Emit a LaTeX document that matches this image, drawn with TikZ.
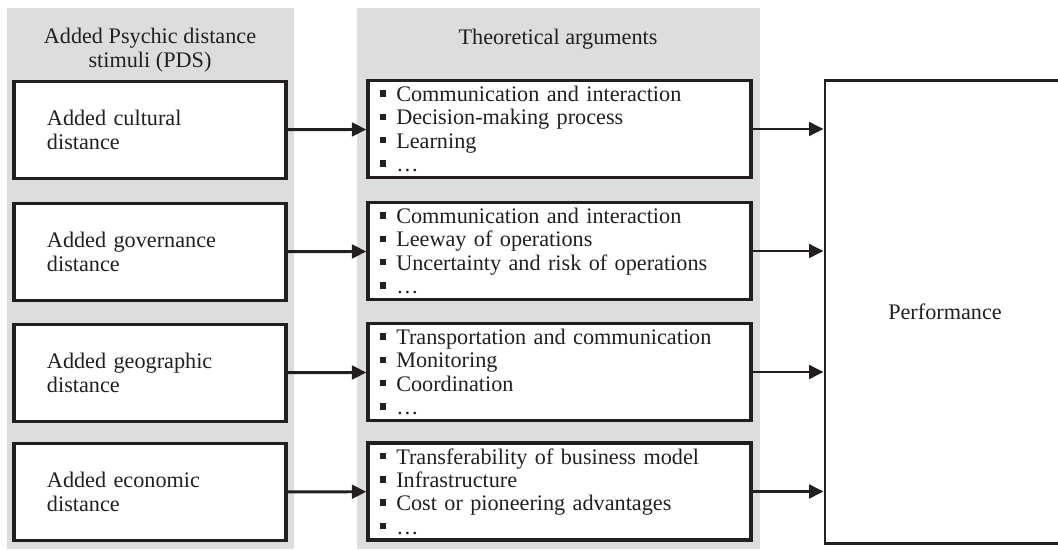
\documentclass[tikz,border=0pt]{standalone}
\usepackage{fontspec}
\setmainfont{Liberation Serif}
\usepackage{xcolor}
\usetikzlibrary{arrows.meta}
\definecolor{panelgray}{RGB}{220, 221, 223}
\definecolor{linegray}{RGB}{35, 31, 32}
\newcommand{\argbullet}{\rule[0.22em]{4.6pt}{4.6pt}\hspace{7pt}}

\begin{document}
\begin{tikzpicture}[
  x=0.025cm, y=-0.025cm,
  font=\fontsize{15.8}{16.6}\selectfont,
  text=linegray,
  panel/.style={
    fill=panelgray,
  },
  header/.style={
    align=center,
    inner sep=0pt,
  },
  pdsbox/.style={
    draw=linegray,
    line width=2.3pt,
    fill=white,
    minimum width=6.8cm,
    minimum height=2.425cm,
    text width=5.15cm,
    align=left,
    inner xsep=0.825cm,
  },
  argbox/.style={
    draw=linegray,
    line width=2.3pt,
    fill=white,
    minimum width=9.575cm,
    minimum height=2.425cm,
    text width=8.975cm,
    align=left,
    inner xsep=0.3cm,
  },
  perfbox/.style={
    draw=linegray,
    line width=2.1pt,
    fill=white,
    minimum width=6cm,
    minimum height=11.55cm,
  },
  link/.style={
    draw=linegray,
    line width=2.1pt,
    -{Triangle[length=0.36cm,width=0.34cm]},
  }
]
  \useasboundingbox (0,0) rectangle (1058,549);

  % Panels
  \fill[panel] (7,8) rectangle (294,549);
  \fill[panel] (357,8) rectangle (760,549);

  % Headers
  \node[header] (pds-h) at (150,50) {Added Psychic distance\\stimuli (PDS)};
  \node[header] (arg-h) at (558,39) {Theoretical arguments};

  % Performance
  \node[perfbox] (perf) at (945,312) {Performance};

  % Cultural
  \node[pdsbox] (cult) at (150,130) {Added cultural\\distance};
  \node[argbox] (cult-a) at (559.5,129) {\argbullet Communication and interaction\\
    \argbullet Decision-making process\\
    \argbullet Learning\\
    \argbullet \dots};

  % Governance
  \node[pdsbox] (gov) at (150,252) {Added governance\\distance};
  \node[argbox] (gov-a) at (559.5,251) {\argbullet Communication and interaction\\
    \argbullet Leeway of operations\\
    \argbullet Uncertainty and risk of operations\\
    \argbullet \dots};

  % Geographic
  \node[pdsbox] (geo) at (150,373) {Added geographic\\distance};
  \node[argbox] (geo-a) at (559.5,372) {\argbullet Transportation and communication\\
    \argbullet Monitoring\\
    \argbullet Coordination\\
    \argbullet \dots};

  % Economic
  \node[pdsbox] (econ) at (150,492) {Added economic\\distance};
  \node[argbox] (econ-a) at (559.5,491.5) {\argbullet Transferability of business model\\
    \argbullet Infrastructure\\
    \argbullet Cost or pioneering advantages\\
    \argbullet \dots};

  % Links
  \draw[link] (cult) -- (cult-a);
  \draw[link] (gov) -- (gov-a);
  \draw[link] (geo) -- (geo-a);
  \draw[link] (econ) -- (econ-a);
  \draw[link] (cult-a.east) -- (cult-a.east -| perf.west);
  \draw[link] (gov-a.east) -- (gov-a.east -| perf.west);
  \draw[link] (geo-a.east) -- (geo-a.east -| perf.west);
  \draw[link] (econ-a.east) -- (econ-a.east -| perf.west);
\end{tikzpicture}
\end{document}
